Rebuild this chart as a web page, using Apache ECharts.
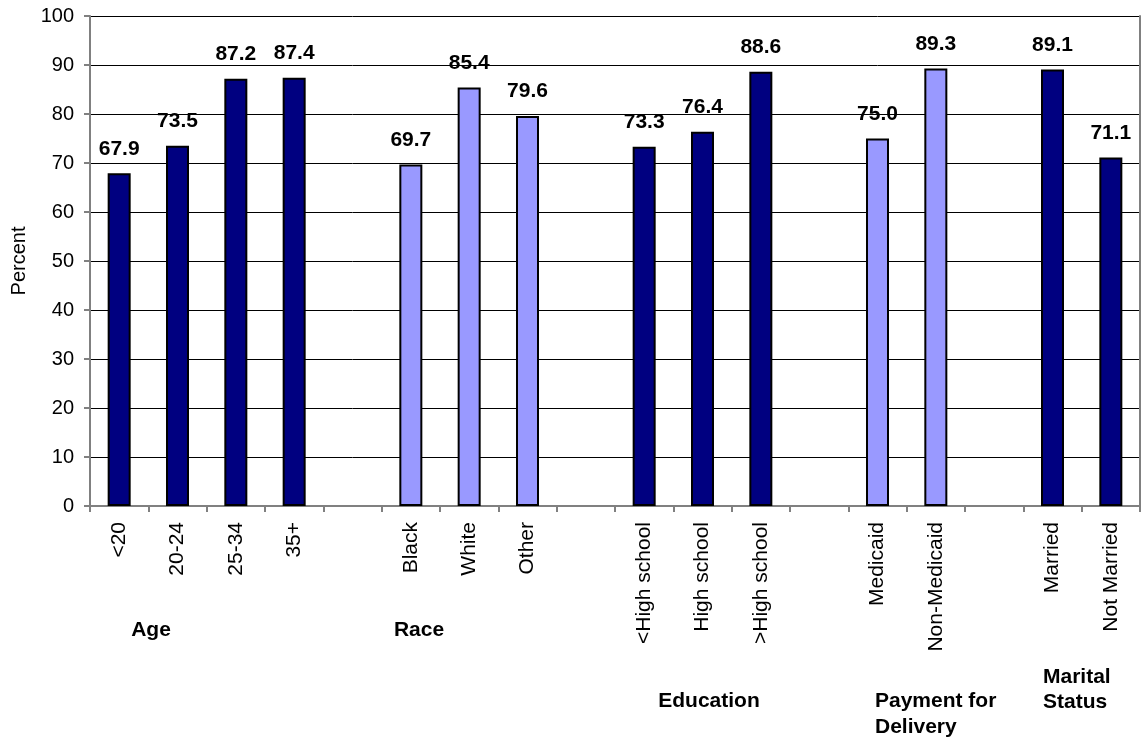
<!DOCTYPE html>
<html>
<head>
<meta charset="utf-8">
<script src="https://cdn.jsdelivr.net/npm/echarts@6/dist/echarts.min.js"></script>
<style>
  html, body { margin: 0; padding: 0; background: #fff; }
  #chart { width: 1141px; height: 738px; }
</style>
</head>
<body>
<div id="chart"></div>
<script>
// groups of the chart
const ageLabels = ['<20', '20-24', '25-34', '35+']
const ageValues = [67.9, 73.5, 87.2, 87.4]
const raceLabels = ['Black', 'White', 'Other']
const raceValues = [69.7, 85.4, 79.6]
const eduLabels = ['<High school', 'High school', '>High school']
const eduValues = [73.3, 76.4, 88.6]
const payLabels = ['Medicaid', 'Non-Medicaid']
const payValues = [75.0, 89.3]
const maritalLabels = ['Married', 'Not Married']
const maritalValues = [89.1, 71.1]
const yTicks = [0, 10, 20, 30, 40, 50, 60, 70, 80, 90, 100]

const DARK = '#000080'
const LIGHT = '#9999FF'
const FONT = 'Liberation Sans, Arial, sans-serif'

// groups: [labels, values, dark?]
const groups = [
    [ageLabels, ageValues, true],
    [raceLabels, raceValues, false],
    [eduLabels, eduValues, true],
    [payLabels, payValues, false],
    [maritalLabels, maritalValues, true],
]

const categories = []
const darkData = []
const lightData = []
groups.forEach(([labels, values, dark], gi) => {
    if (gi > 0) {
        categories.push('')
        darkData.push('-')
        lightData.push('-')
    }
    labels.forEach((l, i) => {
        categories.push(l)
        darkData.push(dark ? values[i] : '-')
        lightData.push(dark ? '-' : values[i])
    })
})

const barLabel = {
    show: true,
    position: 'top',
    distance: 14,
    fontFamily: FONT,
    fontSize: 21,
    fontWeight: 'bold',
    color: '#000',
    formatter: p => Number(p.value).toFixed(1)
}

const chart = echarts.init(document.getElementById('chart'), null, { renderer: 'canvas' })

const groupText = (text, x, y, align) => ({
    type: 'text',
    x, y,
    style: { text, font: 'bold 21px ' + FONT, fill: '#000', align: align || 'center', verticalAlign: 'middle' }
})

chart.setOption({
    animation: false,
    backgroundColor: '#fff',
    grid: { left: 90, right: 1, top: 16, bottom: 232 },
    xAxis: [{
        type: 'category',
        data: categories,
        axisLine: { lineStyle: { color: '#808080', width: 2 } },
        axisTick: { show: true, length: 6, alignWithLabel: false, interval: 0, lineStyle: { color: '#808080', width: 2 } },
        axisLabel: { interval: 0, rotate: 90, margin: 16, fontFamily: FONT, fontSize: 21, color: '#000' }
    }, {
        type: 'category',
        position: 'top',
        data: categories,
        axisLine: { lineStyle: { color: '#808080', width: 2 } },
        axisTick: { show: false },
        axisLabel: { show: false }
    }],
    yAxis: [{
        type: 'value',
        min: yTicks[0],
        max: yTicks[yTicks.length - 1],
        interval: 10,
        name: 'Percent',
        nameLocation: 'middle',
        nameGap: 54,
        nameTextStyle: { fontFamily: FONT, fontSize: 20, color: '#000' },
        axisLine: { show: true, lineStyle: { color: '#808080', width: 2 } },
        axisTick: { show: true, length: 6, lineStyle: { color: '#808080', width: 2 } },
        axisLabel: { margin: 16, fontFamily: FONT, fontSize: 20, color: '#000' },
        splitLine: { show: true, lineStyle: { color: '#000', width: 1 } }
    }, {
        type: 'value',
        position: 'right',
        min: 0,
        max: 100,
        interval: 10,
        axisLine: { show: true, lineStyle: { color: '#808080', width: 2 } },
        axisTick: { show: false },
        axisLabel: { show: false },
        splitLine: { show: false }
    }],
    series: [{
        type: 'bar',
        data: darkData,
        barWidth: 23,
        barGap: '-100%',
        itemStyle: { color: DARK, borderColor: '#000', borderWidth: 2 },
        label: barLabel
    }, {
        type: 'bar',
        data: lightData,
        barWidth: 23,
        barGap: '-100%',
        itemStyle: { color: LIGHT, borderColor: '#000', borderWidth: 2 },
        label: barLabel
    }],
    graphic: [
        groupText('Age', 151, 630),
        groupText('Race', 419, 630),
        groupText('Education', 709, 701),
        groupText('Payment for', 875, 701, 'left'),
        groupText('Delivery', 875, 727, 'left'),
        groupText('Marital', 1043, 677, 'left'),
        groupText('Status', 1043, 702, 'left')
    ]
})
</script>
</body>
</html>
